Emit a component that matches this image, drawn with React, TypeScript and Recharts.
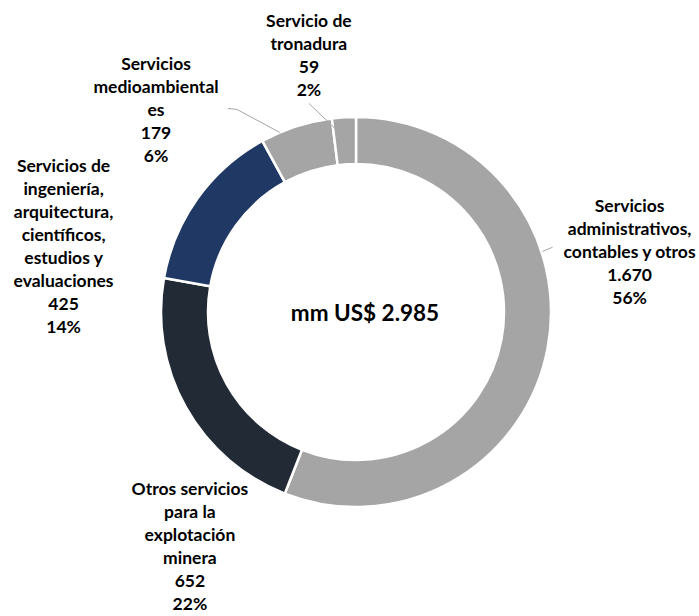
import React from 'react';
import { PieChart, Pie, Cell, Label } from 'recharts';

// ---- data ----
const categories: string[] = [
  'Servicios administrativos, contables y otros',
  'Otros servicios para la explotación minera',
  'Servicios de ingeniería, arquitectura, científicos, estudios y evaluaciones',
  'Servicios medioambientales',
  'Servicio de tronadura',
];
const values: number[] = [1670, 652, 425, 179, 59];
const categoryLines: string[][] = [
  ['Servicios', 'administrativos,', 'contables y otros'],
  ['Otros servicios', 'para la', 'explotación', 'minera'],
  ['Servicios de', 'ingeniería,', 'arquitectura,', 'científicos,', 'estudios y', 'evaluaciones'],
  ['Servicios', 'medioambiental', 'es'],
  ['Servicio de', 'tronadura'],
];
const colors: string[] = ['#A5A5A5', '#222A35', '#1F3864', '#A5A5A5', '#A5A5A5'];
const totalLabel = 'mm US$ 2.985';

const data = categories.map((name, i) => ({ name, value: values[i] }));

// ---- layout (label placement relative to each slice's outer anchor) ----
const LABEL_NUDGE: { dx: number; dy: number }[] = [
  { dx: 82, dy: -143 },
  { dx: 4, dy: 81 },
  { dx: -134, dy: -33 },
  { dx: -140, dy: -63 },
  { dx: -35, dy: -97 },
];
// leader lines: start on ring (radius, angle), then points offset from label first line
const LEADERS: ({ r: number; a: number; pts: [number, number][] } | null)[] = [
  { r: 196, a: 18, pts: [[-77, 42]] },
  null,
  null,
  { r: 195, a: 113, pts: [[81, 46], [72, 45]] },
  { r: 185, a: 96.6, pts: [[0, 83]] },
];

const LINE_H = 23;
const FONT = 'Lato, "Open Sans", sans-serif';
const RAD = Math.PI / 180;

const fmt = (v: number) => String(v).replace(/\B(?=(\d{3})+(?!\d))/g, '.');

const renderLabel = (props: any) => {
  const { cx, cy, midAngle, outerRadius, index, percent, value } = props;
  const ax = cx + outerRadius * Math.cos(-midAngle * RAD);
  const ay = cy + outerRadius * Math.sin(-midAngle * RAD);
  const n = LABEL_NUDGE[index];
  const tx = ax + n.dx;
  const ty = ay + n.dy;
  const lines = [...categoryLines[index], fmt(value), `${Math.round(percent * 100)}%`];
  const ld = LEADERS[index];
  let leader: React.ReactNode = null;
  if (ld) {
    const sx = cx + ld.r * Math.cos(-ld.a * RAD);
    const sy = cy + ld.r * Math.sin(-ld.a * RAD);
    const pts = [[sx, sy], ...ld.pts.map(([ox, oy]) => [tx + ox, ty + oy])];
    leader = (
      <polyline
        points={pts.map((p) => p.join(',')).join(' ')}
        fill="none"
        stroke="#A6A6A6"
        strokeWidth={1}
      />
    );
  }
  return (
    <g key={`lbl-${index}`}>
      {leader}
      <text
        x={tx}
        y={ty}
        textAnchor="middle"
        fill="#000"
        fontFamily={FONT}
        fontWeight={700}
        fontSize={17.5}
      >
        {lines.map((l, i) => (
          <tspan key={i} x={tx} y={ty + i * LINE_H} dominantBaseline="central">
            {l}
          </tspan>
        ))}
      </text>
    </g>
  );
};

export default function App() {
  return (
    <div style={{ position: 'absolute', left: 0, top: 0, width: 699, height: 616, background: '#fff' }}>
      <PieChart width={699} height={616} margin={{ top: 0, right: 0, bottom: 0, left: 0 }}>
        <Pie
          data={data}
          dataKey="value"
          nameKey="name"
          cx={356}
          cy={312}
          innerRadius={148}
          outerRadius={195}
          startAngle={90}
          endAngle={-270}
          stroke="#FFFFFF"
          strokeWidth={2.5}
          labelLine={false}
          label={renderLabel}
          isAnimationActive={false}
        >
          {data.map((d, i) => (
            <Cell key={d.name} fill={colors[i]} />
          ))}
          <Label
            content={(p: any) => {
              const vb = p.viewBox || {};
              const x = (vb.cx ?? 356) + 9;
              const y = vb.cy ?? 312;
              return (
                <text
                  x={x}
                  y={y}
                  textAnchor="middle"
                  dominantBaseline="central"
                  fontFamily={FONT}
                  fontWeight={700}
                  fontSize={22.5}
                  fill="#000"
                >
                  {totalLabel}
                </text>
              );
            }}
          />
        </Pie>
      </PieChart>
    </div>
  );
}
